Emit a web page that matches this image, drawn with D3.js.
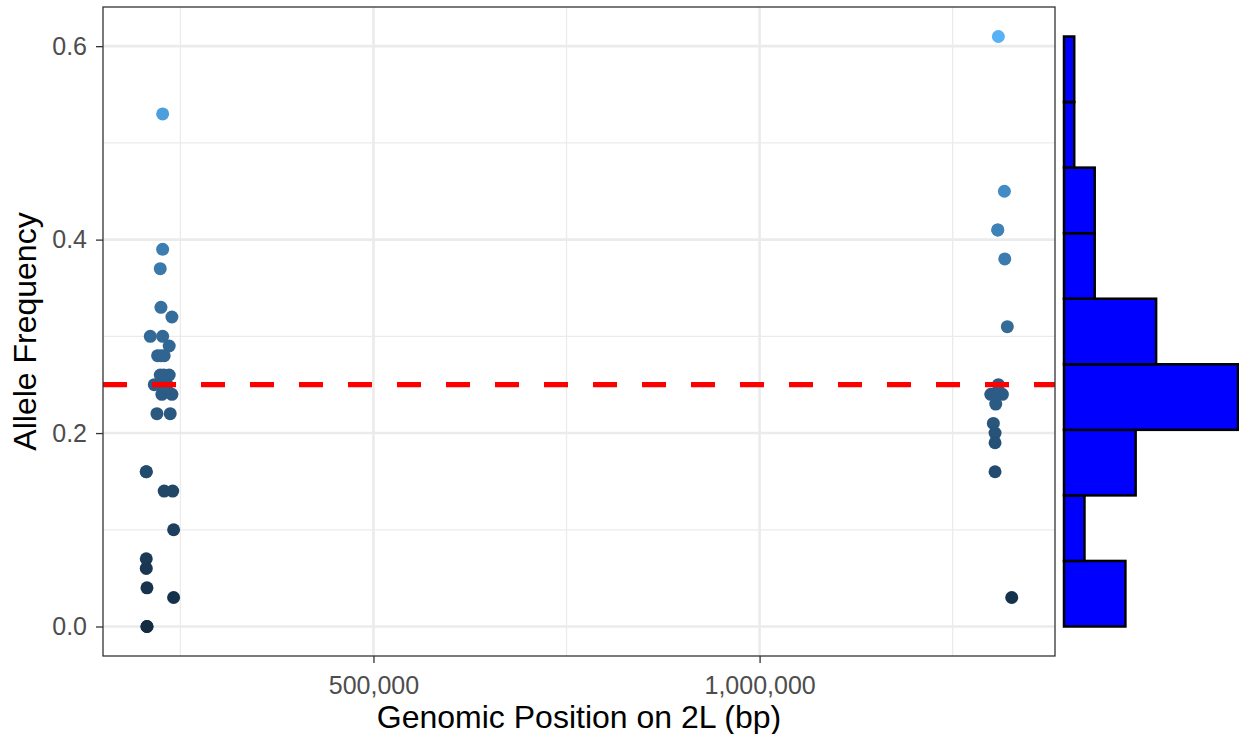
<!DOCTYPE html>
<html>
<head>
<meta charset="utf-8">
<script src="https://cdn.jsdelivr.net/npm/d3@7"></script>
<style>
  body { margin: 0; background: #fff; }
  text { font-family: "Liberation Sans", Arial, Helvetica, sans-serif; }
</style>
</head>
<body>
<div id="container"></div>
<script>
/* CONSTANTS AND GLOBALS */
const width = 1239;
const height = 734;
const panel = { left: 103, right: 1055, top: 7, bottom: 656 };
const hist = { left: 1064, right: 1238 };

// genomic positions (bp) and allele frequencies
// (a few points sit exactly on top of others; the histogram gives them away)
const positions = [
  227000, 227000, 223900, 224800, 239000, 211000, 227000, 235500, 220500, 229000,
  223900, 235500, 216200, 226000, 239000, 219600, 236800, 205800, 229000, 240000,
  241200, 205800, 205800, 206700, 241200, 206700,
  224800, 232600, 228600, 206700, 205800, 224800,
  1309200, 1317000, 1308400, 1317500, 1320800, 1309200, 1299400, 1314400, 1305800, 1302700,
  1304900, 1304900, 1304900, 1326500,
  1308400, 1306000, 1303500
];
const freqs = [
  0.53, 0.39, 0.37, 0.33, 0.32, 0.30, 0.30, 0.29, 0.28, 0.28,
  0.26, 0.26, 0.25, 0.24, 0.24, 0.22, 0.22, 0.16, 0.14, 0.14,
  0.10, 0.07, 0.06, 0.04, 0.03, 0.00,
  0.25, 0.25, 0.26, 0.00, 0.16, 0.28,
  0.61, 0.45, 0.41, 0.38, 0.31, 0.25, 0.24, 0.24, 0.23, 0.21,
  0.20, 0.19, 0.16, 0.03,
  0.41, 0.24, 0.24
];
const cutoff = 0.25;
const xTicks = [500000, 1000000];
const xMinor = [250000, 750000, 1250000];
const yTicks = [0, 0.2, 0.4, 0.6];
const yMinor = [0.1, 0.3, 0.5];
const nBins = 9;

const data = positions.map((p, i) => ({ pos: p, af: freqs[i] }));

/* SCALES */
const xExt = d3.extent(positions);
const xPad = (xExt[1] - xExt[0]) * 0.05;
const xScale = d3.scaleLinear()
  .domain([xExt[0] - xPad, xExt[1] + xPad])
  .range([panel.left, panel.right]);

const yExt = d3.extent(freqs);
const yPad = (yExt[1] - yExt[0]) * 0.05;
const yScale = d3.scaleLinear()
  .domain([yExt[0] - yPad, yExt[1] + yPad])
  .range([panel.bottom, panel.top]);

const colorScale = d3.scaleLinear()
  .domain(yExt)
  .range(["#132B43", "#56B1F7"])
  .interpolate(d3.interpolateLab);

const binStep = (yExt[1] - yExt[0]) / nBins;
const bins = d3.bin()
  .domain(yExt)
  .thresholds(d3.range(1, nBins).map(i => yExt[0] + i * binStep))(freqs);

const countScale = d3.scaleLinear()
  .domain([0, d3.max(bins, b => b.length)])
  .range([hist.left, hist.right]);

/* HTML ELEMENTS */
const svg = d3.select("#container")
  .append("svg")
  .attr("width", width)
  .attr("height", height);

// grid
const grid = svg.append("g");
grid.selectAll(".ymin").data(yMinor).join("line")
  .attr("x1", panel.left).attr("x2", panel.right)
  .attr("y1", d => yScale(d)).attr("y2", d => yScale(d))
  .attr("stroke", "#EBEBEB").attr("stroke-width", 1.3);
grid.selectAll(".xmin").data(xMinor).join("line")
  .attr("y1", panel.top).attr("y2", panel.bottom)
  .attr("x1", d => xScale(d)).attr("x2", d => xScale(d))
  .attr("stroke", "#EBEBEB").attr("stroke-width", 1.3);
grid.selectAll(".ymaj").data(yTicks).join("line")
  .attr("x1", panel.left).attr("x2", panel.right)
  .attr("y1", d => yScale(d)).attr("y2", d => yScale(d))
  .attr("stroke", "#EBEBEB").attr("stroke-width", 2.6);
grid.selectAll(".xmaj").data(xTicks).join("line")
  .attr("y1", panel.top).attr("y2", panel.bottom)
  .attr("x1", d => xScale(d)).attr("x2", d => xScale(d))
  .attr("stroke", "#EBEBEB").attr("stroke-width", 2.6);

// points
svg.append("g").selectAll("circle")
  .data(data)
  .join("circle")
  .attr("cx", d => xScale(d.pos))
  .attr("cy", d => yScale(d.af))
  .attr("r", 6.5)
  .attr("fill", d => colorScale(d.af));

// cutoff line
svg.append("line")
  .attr("x1", panel.left).attr("x2", panel.right)
  .attr("y1", yScale(cutoff)).attr("y2", yScale(cutoff))
  .attr("stroke", "#FF0000")
  .attr("stroke-width", 5.3)
  .attr("stroke-dasharray", "24 25");

// panel border
svg.append("rect")
  .attr("x", panel.left).attr("y", panel.top)
  .attr("width", panel.right - panel.left)
  .attr("height", panel.bottom - panel.top)
  .attr("fill", "none")
  .attr("stroke", "#333333")
  .attr("stroke-width", 1.3);

// axes
const xAxis = svg.append("g")
  .attr("transform", `translate(0,${panel.bottom})`)
  .call(d3.axisBottom(xScale).tickValues(xTicks).tickFormat(d3.format(",")).tickSize(7).tickPadding(13));
const yAxis = svg.append("g")
  .attr("transform", `translate(${panel.left},0)`)
  .call(d3.axisLeft(yScale).tickValues(yTicks).tickFormat(d3.format(".1f")).tickSize(7).tickPadding(9));

[xAxis, yAxis].forEach(ax => {
  ax.select(".domain").remove();
  ax.selectAll(".tick line").attr("stroke", "#333333").attr("stroke-width", 1.3);
  ax.selectAll(".tick text")
    .attr("fill", "#4D4D4D")
    .style("font-size", "25px")
    .style("font-family", '"Liberation Sans", Arial, sans-serif');
});

// titles
svg.append("text")
  .attr("x", (panel.left + panel.right) / 2)
  .attr("y", 728)
  .attr("text-anchor", "middle")
  .style("font-size", "32px")
  .text("Genomic Position on 2L (bp)");

svg.append("text")
  .attr("transform", `translate(36,${(panel.top + panel.bottom) / 2}) rotate(-90)`)
  .attr("text-anchor", "middle")
  .style("font-size", "32px")
  .text("Allele Frequency");

// marginal histogram
svg.append("g").selectAll("rect")
  .data(bins)
  .join("rect")
  .attr("x", hist.left)
  .attr("y", d => yScale(d.x1))
  .attr("width", d => countScale(d.length) - hist.left)
  .attr("height", d => yScale(d.x0) - yScale(d.x1))
  .attr("fill", "#0000FF")
  .attr("stroke", "#000000")
  .attr("stroke-width", 2.5);
</script>
</body>
</html>
